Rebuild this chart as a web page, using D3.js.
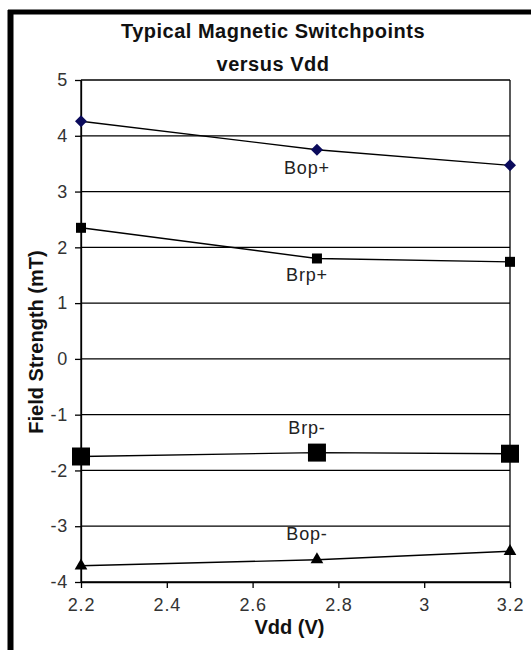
<!DOCTYPE html>
<html>
<head>
<meta charset="utf-8">
<script src="https://cdn.jsdelivr.net/npm/d3@7"></script>
<style>
  html, body { margin: 0; padding: 0; background: #fff; }
  svg { display: block; }
</style>
</head>
<body>
<svg id="chart"></svg>
<script>
// x values (Vdd, V)
const vdd = [2.2, 2.75, 3.2];
// series values (field strength, mT)
const bopPos = [4.26, 3.75, 3.47];
const brpPos = [2.35, 1.80, 1.74];
const brpNeg = [-1.75, -1.68, -1.70];
const bopNeg = [-3.71, -3.60, -3.45];
const seriesNames = ['Bop+', 'Brp+', 'Brp-', 'Bop-'];
const xTicks = [2.2, 2.4, 2.6, 2.8, 3.0, 3.2];
const yTicks = [-4, -3, -2, -1, 0, 1, 2, 3, 4, 5];
const titleLines = ['Typical Magnetic Switchpoints', 'versus Vdd'];
const xTitle = 'Vdd (V)';
const yTitle = 'Field Strength (mT)';

const W = 531, H = 650;
const m = { top: 80, right: 21, bottom: 68, left: 81 };
const cW = W - m.left - m.right;
const cH = H - m.top - m.bottom;
const FONT = 'Liberation Sans, Arial, sans-serif';

const svg = d3.select('#chart').attr('width', W).attr('height', H);
svg.append('rect').attr('width', W).attr('height', H).attr('fill', '#fff');

// outer frame (only top and left edges are visible in the crop)
svg.append('line').attr('x1', 8).attr('x2', W).attr('y1', 12).attr('y2', 12)
  .attr('stroke', '#000').attr('stroke-width', 5);
svg.append('line').attr('x1', 10.5).attr('x2', 10.5).attr('y1', 10).attr('y2', H)
  .attr('stroke', '#000').attr('stroke-width', 6);

const g = svg.append('g').attr('transform', `translate(${m.left},${m.top})`);

const x = d3.scaleLinear().domain([2.2, 3.2]).range([0, cW]);
const y = d3.scaleLinear().domain([-4, 5]).range([cH, 0]);

// grid lines
g.append('g').selectAll('line').data(yTicks).join('line')
  .attr('x1', 0).attr('x2', cW)
  .attr('y1', d => y(d)).attr('y2', d => y(d))
  .attr('stroke', '#000').attr('stroke-width', 1.3);

// plot side edges
[0, cW].forEach(px => {
  g.append('line').attr('x1', px).attr('x2', px).attr('y1', 0).attr('y2', cH)
    .attr('stroke', '#000').attr('stroke-width', 1.3);
});

// axes
const yAxis = g.append('g')
  .call(d3.axisLeft(y).tickValues(yTicks).tickSize(6).tickSizeOuter(0).tickPadding(7).tickFormat(d3.format('d')));
const xAxis = g.append('g').attr('transform', `translate(0,${cH})`)
  .call(d3.axisBottom(x).tickValues(xTicks).tickSize(6).tickSizeOuter(0).tickPadding(10).tickFormat(d => d3.format('~g')(d)));
[xAxis, yAxis].forEach(a => {
  a.select('.domain').attr('stroke', '#000').attr('stroke-width', 1.3);
  a.selectAll('.tick line').attr('stroke', '#000').attr('stroke-width', 1.3);
  a.selectAll('text').attr('fill', '#333').style('font-family', FONT)
    .style('font-size', '18px').style('letter-spacing', '0.8px');
});
yAxis.selectAll('.tick text').text(d => d < 0 ? '-' + Math.abs(d) : d);

// series
const series = [
  { name: seriesNames[0], vals: bopPos, sym: d3.symbolSquare, size: 72, rot: 45, fill: '#0b0b5c', lab: 24 },
  { name: seriesNames[1], vals: brpPos, sym: d3.symbolSquare, size: 100, rot: 0, fill: '#000', lab: 23 },
  { name: seriesNames[2], vals: brpNeg, sym: d3.symbolSquare, size: 324, rot: 0, fill: '#000', lab: -19 },
  { name: seriesNames[3], vals: bopNeg, sym: d3.symbolTriangle, size: 70, rot: 0, fill: '#000', lab: -20 }
];

const line = d3.line().x(d => x(d[0])).y(d => y(d[1]));

series.forEach(s => {
  const pts = vdd.map((v, i) => [v, s.vals[i]]);
  g.append('path').datum(pts)
    .attr('fill', 'none').attr('stroke', '#000').attr('stroke-width', 1.4).attr('d', line);
  g.append('g').selectAll('path').data(pts).join('path')
    .attr('transform', d => `translate(${x(d[0])},${y(d[1])}) rotate(${s.rot})`)
    .attr('d', d3.symbol().type(s.sym).size(s.size))
    .attr('fill', s.fill);
  g.append('text')
    .attr('x', x(vdd[1]) - 10)
    .attr('y', y(s.vals[1]) + s.lab)
    .attr('text-anchor', 'middle')
    .attr('fill', '#222')
    .style('font-family', FONT).style('font-size', '18px').style('letter-spacing', '0.8px')
    .text(s.name);
});

// titles
svg.append('g').selectAll('text').data(titleLines).join('text')
  .attr('x', 273).attr('y', (d, i) => 38 + i * 33)
  .attr('text-anchor', 'middle')
  .style('font-family', FONT).style('font-size', '20px').style('font-weight', 'bold')
  .style('letter-spacing', '0.5px')
  .attr('fill', '#111')
  .text(d => d);

svg.append('text')
  .attr('x', m.left + x(2.7) - 6).attr('y', 634)
  .attr('text-anchor', 'middle')
  .style('font-family', FONT).style('font-size', '20px').style('font-weight', 'bold')
  .attr('fill', '#111')
  .text(xTitle);

svg.append('text')
  .attr('transform', 'translate(43,342) rotate(-90)')
  .attr('text-anchor', 'middle')
  .style('font-family', FONT).style('font-size', '20px').style('font-weight', 'bold')
  .attr('fill', '#111')
  .text(yTitle);
</script>
</body>
</html>
